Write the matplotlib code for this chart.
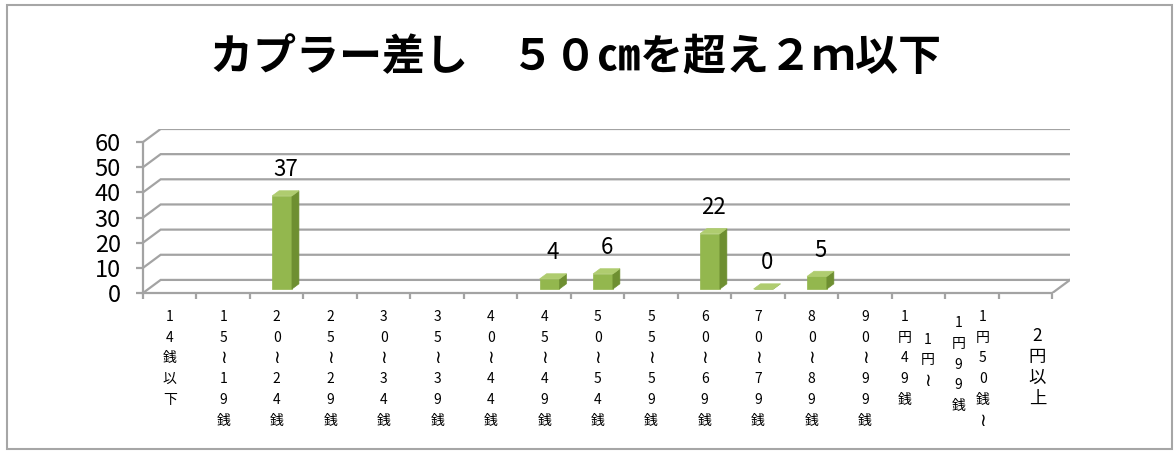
import matplotlib
matplotlib.use('Agg')
import matplotlib.pyplot as plt
from matplotlib.patches import Polygon, Rectangle

plt.rcParams['font.family'] = ['Noto Sans CJK JP', 'DejaVu Sans']

title = 'カプラー差し　５０㎝を超え２ｍ以下'
categories = ['14銭以下', '15～19銭', '20～24銭', '25～29銭', '30～34銭', '35～39銭',
              '40～44銭', '45～49銭', '50～54銭', '55～59銭', '60～69銭', '70～79銭',
              '80～89銭', '90～99銭', '1円～1円49銭', '1円50銭～1円99銭', '2円以上']
values = [None, None, 37, None, None, None, None, 4, 6, None, 22, 0, 5,
          None, None, None, None]
y_ticks = [0, 10, 20, 30, 40, 50, 60]

# 3d look: depth of the floor/back wall and of a bar, in data units
DX, DY = 0.33, 5.2
OX, OY = 0.10, 1.6
BW = 0.37
BX, BY = 0.13, 2.05

fig = plt.figure(figsize=(11.75, 4.51), dpi=100)
ax = fig.add_axes([143 / 1175, 158 / 451, 927 / 1175, 164 / 451])
ax.set_xlim(0, len(categories) + DX)
ax.set_ylim(0, y_ticks[-1] + DY)

grid_c = '#a3a3a3'
n = len(categories)
for t in y_ticks:
    ax.plot([0, DX, n + DX], [t, t + DY, t + DY], color=grid_c, lw=1.6, zorder=1,
            solid_joinstyle='miter')
ax.plot([n, n + DX], [0, DY], color=grid_c, lw=1.6, zorder=1)

for sp in ['top', 'right']:
    ax.spines[sp].set_visible(False)
ax.spines['left'].set_bounds(0, y_ticks[-1])
ax.spines['bottom'].set_bounds(0, n)
for sp in ['left', 'bottom']:
    ax.spines[sp].set_color(grid_c)
    ax.spines[sp].set_linewidth(1.6)
ax.set_yticks(y_ticks)
ax.set_xticks(range(n + 1))
ax.set_xticklabels([])
ax.tick_params(axis='y', length=5, width=1.6, color=grid_c, labelsize=17, pad=11)
ax.tick_params(axis='x', length=4, width=1.6, color=grid_c)

front, side, top = '#93b74e', '#6e8f31', '#afcc6f'
for i, v in enumerate(values):
    if v is None:
        continue
    x0 = i + 0.5 + OX - BW / 2
    x1 = x0 + BW
    y0, y1 = OY, OY + v
    ax.add_patch(Polygon([(x0, y0), (x1, y0), (x1, y1), (x0, y1)],
                         fc=front, ec=front, lw=0.5, zorder=3))
    ax.add_patch(Polygon([(x1, y0), (x1 + BX, y0 + BY), (x1 + BX, y1 + BY), (x1, y1)],
                         fc=side, ec=side, lw=0.5, zorder=3))
    ax.add_patch(Polygon([(x0, y1), (x1, y1), (x1 + BX, y1 + BY), (x0 + BX, y1 + BY)],
                         fc=top, ec=top, lw=0.5, zorder=3))
    ax.annotate(str(v), xy=(i + 0.5 + DX / 2, y1 + BY), xytext=(0, 15),
                textcoords='offset points', ha='center', va='center', fontsize=16)

# vertical category labels, one character per row
ROW = 14.9


def vlabel(x, s, start, size=10):
    for k, ch in enumerate(s.replace('～', '≀')):
        ax.annotate(ch, xy=(x, 0), xytext=(0, -(start + k * ROW)),
                    textcoords='offset points', ha='center', va='center',
                    fontsize=size * 1.3 if ch == '≀' else size,
                    annotation_clip=False)


for i, lab in enumerate(categories):
    c = i + 0.5
    if lab == '1円～1円49銭':
        vlabel(c - 0.26, '1円49銭', 17.3)
        vlabel(c + 0.17, '1円～', 17.3 + ROW * 1.1)
    elif lab == '1円50銭～1円99銭':
        vlabel(c - 0.26, '1円99銭', 17.3 + 4.5)
        vlabel(c + 0.20, '1円50銭～', 17.3)
    elif lab == '2円以上':
        vlabel(c + 0.22, lab, 17.3 + 14, size=12.5)
    else:
        vlabel(c, lab, 17.3)

fig.text(576 / 1175, 1 - 57 / 451, title, ha='center', va='center',
         fontsize=31, fontweight='bold')

fig.add_artist(Rectangle((7 / 1175, 2 / 451), 1165 / 1175, 444 / 451,
                         transform=fig.transFigure, fill=False, ec='#a6a6a6', lw=1.5))

fig.savefig('out.png', dpi=100, facecolor='white')
